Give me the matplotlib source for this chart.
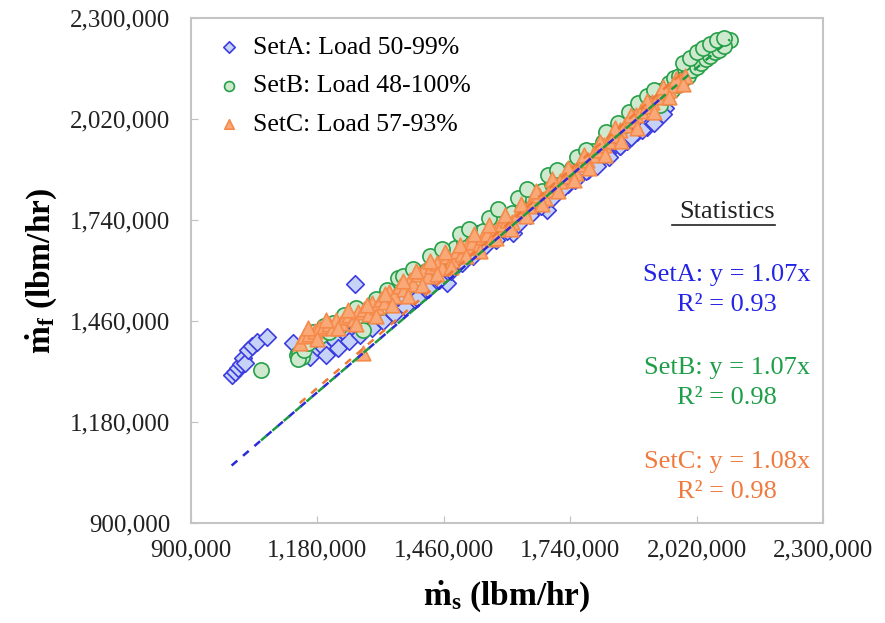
import matplotlib
matplotlib.use("Agg")
import matplotlib.pyplot as plt
from matplotlib.ticker import FuncFormatter, FixedLocator

plt.rcParams['font.family'] = ['Liberation Serif', 'DejaVu Serif']
plt.rcParams['mathtext.fontset'] = 'custom'
plt.rcParams['mathtext.rm'] = 'Liberation Serif'
plt.rcParams['mathtext.bf'] = 'Liberation Serif:bold'
plt.rcParams['mathtext.it'] = 'Liberation Serif:italic'

# ---------------- data (lbm/hr) ----------------
setA_x = [990000, 997000, 1004000, 1010000, 1015000, 1020000, 1026000, 1035000, 1046000, 1068000,
          1126000, 1164000, 1179000, 1263000,
          1195000, 1218000, 1242000, 1268000, 1292000, 1318000, 1342000, 1366000, 1390000, 1412000,
          1435000, 1458000, 1467000, 1480000, 1502000, 1520000, 1533000, 1548000, 1570000, 1590000,
          1613000, 1630000, 1650000, 1666000, 1675000, 1689000, 1695000, 1712000, 1735000, 1758000,
          1780000, 1800000, 1822000, 1850000, 1865000, 1888000, 1910000, 1930000, 1950000,
          1200000, 1225000, 1250000, 1275000, 1300000, 1325000, 1350000, 1375000, 1400000, 1425000,
          1450000, 1475000, 1500000, 1525000, 1550000, 1575000, 1600000, 1625000, 1650000, 1675000,
          1700000, 1725000, 1750000, 1775000, 1800000, 1825000, 1850000, 1875000, 1900000, 1925000,
          1945000]
setA_y = [1310000, 1318000, 1330000, 1340000, 1357000, 1344000, 1380000, 1390000, 1402000, 1416000,
          1399000, 1360000, 1388000, 1563000,
          1385000, 1405000, 1428000, 1445000, 1462000, 1478000, 1498000, 1520000, 1545000, 1562000,
          1585000, 1600000, 1565000, 1625000, 1640000, 1660000, 1700000, 1680000, 1695000, 1715000,
          1704000, 1745000, 1760000, 1805000, 1790000, 1768000, 1804000, 1825000, 1840000, 1862000,
          1880000, 1900000, 1925000, 1945000, 1960000, 1985000, 1998000, 2020000, 2050000,
          1365000, 1385000, 1405000, 1420000, 1440000, 1460000, 1480000, 1500000, 1525000, 1550000,
          1575000, 1600000, 1620000, 1640000, 1665000, 1685000, 1710000, 1730000, 1755000, 1780000,
          1800000, 1830000, 1850000, 1875000, 1890000, 1915000, 1945000, 1970000, 1990000, 2010000,
          2035000]

setB_x = [1055000, 1135000, 1140000, 1145000, 1138000, 1150000, 1160000, 1185000, 1205000, 1215000,
          1230000, 1255000, 1275000, 1281000, 1300000, 1322000, 1345000, 1359000, 1380000, 1400000,
          1420000, 1440000, 1462000, 1485000, 1505000, 1525000, 1548000, 1570000, 1590000, 1612000,
          1635000, 1655000, 1678000, 1700000, 1722000, 1745000, 1768000, 1790000, 1812000, 1834000,
          1856000, 1878000, 1900000, 1915000, 1930000, 1945000, 1958000, 1970000, 1982000, 1995000,
          2005000, 2015000, 2025000, 2035000, 2045000, 2055000, 2065000, 2075000, 2085000, 2094000,
          1170000, 1195000, 1240000, 1265000, 1310000, 1335000, 1370000, 1392000, 1430000, 1455000,
          1495000, 1515000, 1560000, 1580000, 1625000, 1645000, 1690000, 1710000, 1755000, 1775000,
          1820000, 1845000, 1870000, 1890000, 1910000, 1925000, 1940000, 1952000, 1965000, 1978000,
          1990000, 2000000, 2010000, 2020000, 2030000, 2040000, 2050000, 2060000, 2070000, 2080000,
          1990000, 2005000, 2020000, 2035000, 2050000, 2065000, 2080000]
setB_y = [1324000, 1365000, 1372000, 1360000, 1355000, 1380000, 1400000, 1418000, 1430000, 1455000,
          1445000, 1470000, 1462000, 1435000, 1488000, 1500000, 1535000, 1580000, 1560000, 1578000,
          1598000, 1622000, 1640000, 1662000, 1680000, 1690000, 1710000, 1720000, 1745000, 1760000,
          1780000, 1800000, 1820000, 1840000, 1862000, 1885000, 1905000, 1930000, 1955000, 1975000,
          2000000, 2025000, 2050000, 2070000, 2085000, 2100000, 2120000, 2135000, 2140000, 2160000,
          2170000, 2180000, 2190000, 2200000, 2205000, 2215000, 2225000, 2230000, 2238000, 2240000,
          1430000, 1445000, 1478000, 1495000, 1520000, 1545000, 1585000, 1605000, 1640000, 1660000,
          1700000, 1715000, 1745000, 1770000, 1800000, 1825000, 1865000, 1880000, 1915000, 1935000,
          1985000, 2010000, 2040000, 2065000, 2085000, 2100000, 2060000, 2080000, 2100000, 2115000,
          2130000, 2140000, 2155000, 2165000, 2175000, 2185000, 2195000, 2205000, 2212000, 2222000,
          2175000, 2190000, 2205000, 2218000, 2228000, 2238000, 2244000]

setC_x = [1141000, 1150000, 1162000, 1175000, 1183000, 1195000, 1205000, 1214000, 1222000, 1233000,
          1241000, 1250000, 1262000, 1270000, 1281000, 1284000, 1295000, 1300000, 1311000, 1320000,
          1330000, 1338000, 1350000, 1362000, 1372000, 1385000, 1392000, 1405000, 1415000, 1424000,
          1435000, 1446000, 1455000, 1468000, 1478000, 1490000, 1500000, 1512000, 1522000, 1535000,
          1546000, 1556000, 1567000, 1578000, 1590000, 1600000, 1612000, 1625000, 1636000, 1648000,
          1660000, 1672000, 1684000, 1695000, 1706000, 1718000, 1730000, 1742000, 1754000, 1766000,
          1778000, 1790000, 1802000, 1815000, 1826000, 1838000, 1850000, 1862000, 1874000, 1886000,
          1898000, 1910000, 1922000, 1934000, 1946000, 1958000, 1970000, 1983000, 1995000,
          1160000, 1180000, 1200000, 1225000, 1248000, 1265000, 1290000, 1310000, 1330000, 1345000,
          1370000, 1380000, 1398000, 1412000, 1430000, 1445000, 1462000, 1475000, 1495000, 1510000,
          1528000, 1540000, 1560000, 1575000, 1595000, 1608000, 1630000, 1642000, 1665000, 1678000,
          1700000, 1712000, 1735000, 1748000, 1770000, 1782000, 1805000, 1818000, 1840000, 1852000,
          1875000, 1888000, 1910000, 1925000, 1945000, 1960000, 1975000, 1990000]
setC_y = [1400000, 1418000, 1425000, 1432000, 1440000, 1446000, 1452000, 1440000, 1462000, 1455000,
          1470000, 1478000, 1466000, 1486000, 1372000, 1492000, 1480000, 1510000, 1498000, 1522000,
          1512000, 1540000, 1530000, 1556000, 1548000, 1575000, 1562000, 1590000, 1600000, 1585000,
          1612000, 1622000, 1608000, 1640000, 1630000, 1655000, 1645000, 1668000, 1680000, 1665000,
          1692000, 1700000, 1688000, 1715000, 1728000, 1740000, 1735000, 1758000, 1770000, 1780000,
          1795000, 1808000, 1800000, 1822000, 1838000, 1848000, 1862000, 1875000, 1870000, 1895000,
          1905000, 1920000, 1935000, 1948000, 1960000, 1975000, 1990000, 2002000, 2018000, 2030000,
          2042000, 2055000, 2068000, 2080000, 2094000, 2100000, 2115000, 2128000, 2140000,
          1440000, 1410000, 1462000, 1440000, 1490000, 1452000, 1505000, 1475000, 1535000, 1505000,
          1570000, 1530000, 1600000, 1560000, 1625000, 1590000, 1650000, 1610000, 1670000, 1640000,
          1700000, 1655000, 1725000, 1690000, 1755000, 1715000, 1785000, 1750000, 1820000, 1785000,
          1855000, 1820000, 1885000, 1850000, 1920000, 1885000, 1955000, 1920000, 1995000, 1960000,
          2030000, 1995000, 2070000, 2040000, 2110000, 2080000, 2130000, 2118000]

slopes = [1.07, 1.07, 1.08]
r2 = [0.93, 0.98, 0.98]
labels = ["SetA: Load 50-99%", "SetB: Load 48-100%", "SetC: Load 57-93%"]
ticks = [900000, 1180000, 1460000, 1740000, 2020000, 2300000]

# ---------------- styles ----------------
line_cols = ['#2b2bd6', '#1e9a45', '#f07a38']
face_cols = ['#c6d3f7', '#cfe9cf', '#f9a878']
edge_cols = ['#3c3ce0', '#25a048', '#f58a4a']
markers = ['D', 'o', '^']
sizes = [80, 120, 110]

fig = plt.figure(figsize=(8.85, 6.23), dpi=100)
ax = fig.add_axes([0.2158, 0.1605, 0.7141, 0.8106])

xs = [setA_x, setB_x, setC_x]
ys = [setA_y, setB_y, setC_y]
for i in range(3):
    ax.scatter(xs[i], ys[i], s=sizes[i], marker=markers[i], facecolor=face_cols[i],
               edgecolor=edge_cols[i], linewidths=1.2, label=labels[i], zorder=2 + i)

for i in range(3):
    x0, x1 = min(xs[i]), max(xs[i])
    ax.plot([x0, x1], [slopes[i] * x0, slopes[i] * x1], color=line_cols[i], lw=1.8,
            dashes=(3, 3), zorder=6)

ax.set_xlim(ticks[0], ticks[-1])
ax.set_ylim(ticks[0], ticks[-1])
ax.xaxis.set_major_locator(FixedLocator(ticks))
ax.yaxis.set_major_locator(FixedLocator(ticks))
fmt = FuncFormatter(lambda v, p: f"{int(round(v)):,}")
ax.xaxis.set_major_formatter(fmt)
ax.yaxis.set_major_formatter(fmt)
ax.tick_params(direction='in', length=5, color='#c0c0c0', labelsize=18, labelcolor='#222222')
ax.tick_params(axis='y', pad=15)
ax.tick_params(axis='x', pad=12)
for sp in ax.spines.values():
    sp.set_color('#c4c4c4')
    sp.set_linewidth(1.5)

ax.set_xlabel(r'$\mathbf{\dot{m}_s}$ (lbm/hr)', fontsize=24, fontweight='bold', labelpad=12)
ax.set_ylabel(r'$\mathbf{\dot{m}_f}$ (lbm/hr)', fontsize=24, fontweight='bold', labelpad=8)

leg = ax.legend(loc='upper left', bbox_to_anchor=(0.012, 1.0), frameon=False, fontsize=18.5,
                handlelength=1.0, handletextpad=0.4, labelspacing=0.6, markerscale=0.65,
                borderaxespad=0.3)

cx = 0.848
ax.text(cx, 0.616, "Statistics", transform=ax.transAxes, ha='center', va='center',
        fontsize=19, color='#222222')
ax.plot([0.761, 0.924], [0.590, 0.590], transform=ax.transAxes, color='#222222', lw=1.2,
        clip_on=False)
text_cols = ['#2424e6', '#1e9e48', '#f07a3e']
rows = [(0.491, 0.432), (0.307, 0.248), (0.121, 0.061)]
for i, nm in enumerate(['SetA', 'SetB', 'SetC']):
    ax.text(cx, rows[i][0], f"{nm}: y = {slopes[i]:.2f}x", transform=ax.transAxes,
            ha='center', va='center', fontsize=19, color=text_cols[i])
    ax.text(cx, rows[i][1], f"R² = {r2[i]:.2f}", transform=ax.transAxes,
            ha='center', va='center', fontsize=19, color=text_cols[i])

fig.savefig("out.png", dpi=100)
